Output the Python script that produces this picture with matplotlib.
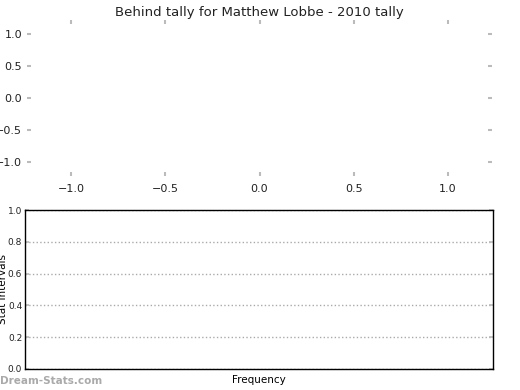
import matplotlib
matplotlib.use("Agg")
import matplotlib.pyplot as plt

# chart data (the reference has no data drawn)
intervals = []
frequencies = []
top_xticks = [-1.0, -0.5, 0.0, 0.5, 1.0]
top_yticks = [-1.0, -0.5, 0.0, 0.5, 1.0]
bottom_yticks = [0.0, 0.2, 0.4, 0.6, 0.8, 1.0]

title = "Behind tally for Matthew Lobbe - 2010 tally"

fig = plt.figure(figsize=(5.2, 3.9), dpi=100)

# top (empty) panel
ax1 = fig.add_axes([27 / 520, 1 - 176 / 390, 465 / 520, 156 / 390])
ax1.plot(frequencies, intervals)
ax1.set_xlim(-1.235, 1.235)
ax1.set_ylim(-1.22, 1.22)
ax1.set_xticks(top_xticks)
ax1.set_yticks(top_yticks)
for s in ax1.spines.values():
    s.set_visible(False)
ax1.tick_params(axis='both', colors='#bbbbbb', labelcolor='#222222', labelsize=8,
                length=3, width=1.5, top=True, right=True, direction='in')
ax1.tick_params(axis='x', pad=6)
ax1.set_title(title, fontsize=9.5, color='#222222', pad=3)

# bottom panel
ax2 = fig.add_axes([25 / 520, 1 - 369 / 390, 468 / 520, 159 / 390])
ax2.barh(intervals, frequencies)
ax2.set_ylim(0, 1)
ax2.set_xlim(0, 1)
ax2.set_yticks(bottom_yticks)
ax2.set_xticks([])
ax2.yaxis.grid(True, linestyle=':', color='#aaaaaa', linewidth=1)
ax2.tick_params(axis='y', labelsize=6.5, length=3, width=1.2, colors='#bbbbbb',
                labelcolor='#222222', right=True, direction='in', pad=2)
for s in ax2.spines.values():
    s.set_linewidth(1)
ax2.set_ylabel("Stat Intervals", fontsize=7.5, labelpad=0)
ax2.set_xlabel("Frequency", fontsize=7.5, labelpad=4)

fig.text(0.0, 4 / 390, "Dream-Stats.com", fontsize=7.5, color='#aaaaaa',
         fontweight='bold', ha='left', va='bottom')

fig.savefig("out.png", dpi=100)
